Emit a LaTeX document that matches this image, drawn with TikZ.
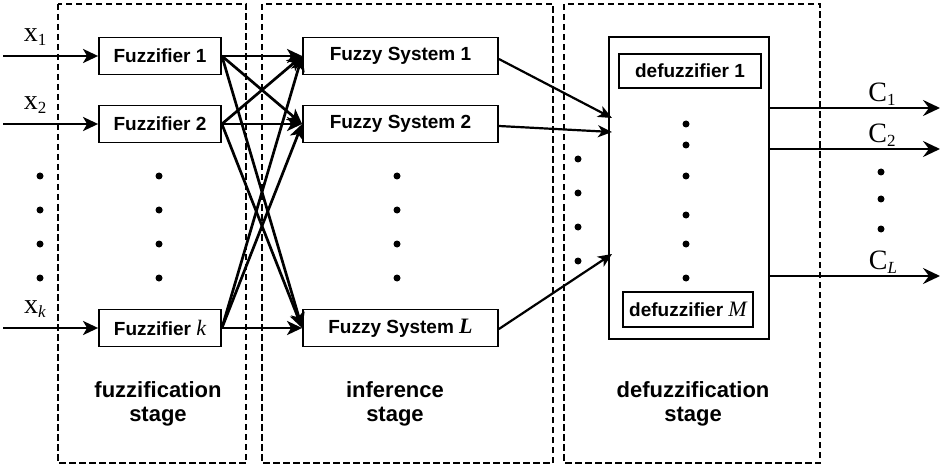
\documentclass[tikz,border=0pt]{standalone}
\usepackage{fontspec}
\setmainfont{Liberation Serif}
\newfontfamily\arialf{Liberation Sans}
\usetikzlibrary{arrows.meta,calc}
\newcommand\mysub[1]{\raisebox{-4pt}{\fontsize{17}{17}\selectfont #1}}
\begin{document}
\begin{tikzpicture}[x=1pt,y=-1pt,
  box/.style={draw,line width=1.8pt,inner sep=0pt,font=\arialf\bfseries\fontsize{19}{21}\selectfont},
  stagebox/.style={draw,line width=2.7pt,dash pattern=on 6.5pt off 3.5pt},
  conn/.style={line width=2.7pt,-{Stealth[length=15pt,width=14pt,inset=4pt]}},
  thinconn/.style={line width=2.2pt,-{Stealth[length=14pt,width=12pt,inset=4pt]}},
  outconn/.style={line width=2.9pt,-{Stealth[length=17pt,width=16pt,inset=6pt]}},
  dot/.style={circle,fill,inner sep=0pt,minimum size=7pt},
  lbl/.style={font=\fontsize{28}{28}\selectfont,inner sep=0pt},
  stagetxt/.style={align=center,font=\arialf\bfseries\fontsize{22}{24}\selectfont}
]
\useasboundingbox (0,0) rectangle (943,468);

% stage boxes
\draw[stagebox] (58,4) rectangle (246,463);
\draw[stagebox] (262,4) rectangle (553,463);
\draw[stagebox] (564,4) rectangle (820,463);

% fuzzifiers
\node[box,minimum width=122pt,minimum height=37pt] (f1) at (160,56) {Fuzzifier 1};
\node[box,minimum width=122pt,minimum height=37pt] (f2) at (160,124) {Fuzzifier 2};
\node[box,minimum width=122pt,minimum height=37pt] (fk) at (160,328) {Fuzzifier {\rmfamily\mdseries\itshape\fontsize{22}{22}\selectfont k}};

% fuzzy systems
\node[box,minimum width=195pt,minimum height=37pt] (s1) at (400.5,56) {Fuzzy System 1};
\node[box,minimum width=195pt,minimum height=37pt] (s2) at (400.5,124) {Fuzzy System 2};
\node[box,minimum width=195pt,minimum height=37pt] (sL) at (400.5,328) {Fuzzy System {\rmfamily\itshape\fontsize{22}{22}\selectfont L}};

% defuzzification block
\node[draw,line width=1.5pt,minimum width=160pt,minimum height=302pt,inner sep=0pt] (dz) at (689,188) {};
\node[box,minimum width=142pt,minimum height=34pt] (d1) at (690,71) {defuzzifier 1};
\node[box,minimum width=130pt,minimum height=35pt] (dM) at (688,309.5) {defuzzifier {\rmfamily\mdseries\itshape\fontsize{22}{22}\selectfont M}};

% input coordinates and labels
\coordinate (i1) at (3,56);
\coordinate (i2) at (3,124);
\coordinate (ik) at (3,328);
\node[lbl] (lx1) at (35,37) {x\mysub{1}};
\node[lbl] (lx2) at (35,105) {x\mysub{2}};
\node[lbl] (lxk) at (35,309) {x\mysub{\itshape k}};

\draw[conn] (i1) -- (f1.west);
\draw[conn] (i2) -- (f2.west);
\draw[conn] (ik) -- (fk.west);

% full connection fuzzifiers -> fuzzy systems
\foreach \a in {f1,f2,fk}{
  \foreach \b in {s1,s2,sL}{
    \draw[conn] (\a.east) -- (\b.west);
  }
}

% fuzzy systems -> defuzzification block
\coordinate (e1) at (612,118);
\coordinate (e2) at (612,132);
\coordinate (eL) at (612,254);
\draw[thinconn] ([yshift=-3pt]s1.east) -- (e1);
\draw[thinconn] ([yshift=-2pt]s2.east) -- (e2);
\draw[thinconn] ([yshift=-1pt]sL.east) -- (eL);

% outputs
\coordinate (o1) at (940,108);
\coordinate (o2) at (940,149);
\coordinate (oL) at (940,276);
\draw[outconn] (dz.east |- o1) -- (o1);
\draw[outconn] (dz.east |- o2) -- (o2);
\draw[outconn] (dz.east |- oL) -- (oL);
\node[lbl] (lc1) at (882,94) {C\mysub{1}};
\node[lbl] (lc2) at (882,135) {C\mysub{2}};
\node[lbl] (lcL) at (883,262) {C\mysub{\itshape L}};

% dots
\foreach \y [count=\i] in {176,210,244,278}{
  \node[dot] (pa\i) at (40,\y) {};
  \node[dot] (pb\i) at (159,\y) {};
  \node[dot] (pc\i) at (397,\y) {};
}
\foreach \y [count=\i] in {159,193,227,261}{
  \node[dot] (pd\i) at (578,\y) {};
}
\foreach \y [count=\i] in {124,145,176,215,244,278}{
  \node[dot] (pe\i) at (686,\y) {};
}
\foreach \y [count=\i] in {172,199,229}{
  \node[dot] (pf\i) at (881,\y) {};
}

% stage labels
\node[stagetxt] (t1) at (158,404) {fuzzification\\stage};
\node[stagetxt] (t2) at (395,404) {inference\\stage};
\node[stagetxt] (t3) at (693,404) {defuzzification\\stage};
\end{tikzpicture}
\end{document}
